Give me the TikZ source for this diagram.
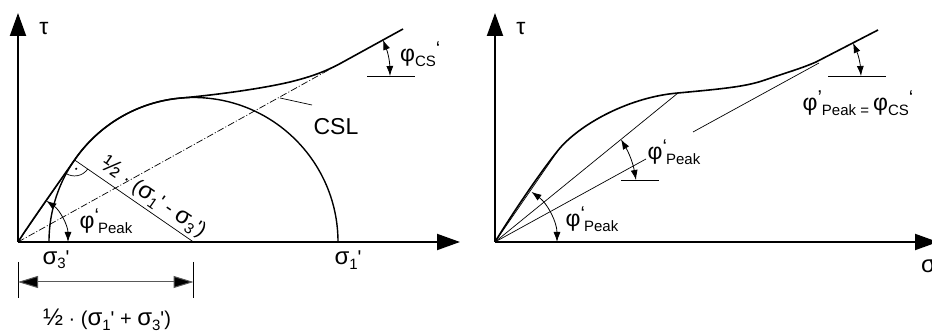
\documentclass[tikz,border=0pt]{standalone}
\usepackage{fontspec}
\setmainfont{Liberation Sans}
\usetikzlibrary{arrows.meta}
\newcommand{\subtx}[1]{\raisebox{-0.22em}{\fontsize{15}{15}\selectfont #1}}
\newcommand{\suptx}[1]{\raisebox{0.32em}{\fontsize{20}{20}\selectfont #1}}
\newcommand{\primq}{\textquotesingle}
\newcommand{\gsig}{{\fontsize{24}{24}\selectfont σ}}
\newcommand{\gphi}{{\fontsize{23}{23}\selectfont φ}}
\newcommand{\gtau}{{\fontsize{23}{23}\selectfont τ}}
\newcommand{\ghalf}{{\fontsize{24}{24}\selectfont ½}}
\newcommand{\phipeak}{\gphi\suptx{‘}\kern-1pt\subtx{Peak}}
\begin{document}
\begin{tikzpicture}[x=1pt, y=1pt,
  every node/.style={font=\fontsize{20}{22}\selectfont, inner sep=1pt},
  axis/.style={line width=2pt, -{Triangle[length=23pt,width=16pt]}},
  envel/.style={line width=1.6pt},
  fine/.style={line width=0.7pt},
  angarr/.style={line width=0.8pt, {Latex[length=10pt,width=7pt]}-{Latex[length=10pt,width=7pt]}},
  dimarr/.style={line width=1pt, draw=black!65, {Triangle[length=20pt,width=12pt,fill=black]}-{Triangle[length=20pt,width=12pt,fill=black]}}]
  \useasboundingbox (0,0) rectangle (932,336);
  % left panel: Mohr circle
  \coordinate (O) at (18,94);
  \coordinate (Xa) at (460,94);
  \coordinate (Ya) at (18,323);
  \coordinate (C) at (193.5,94);
  \coordinate (S3) at (49,94);
  \coordinate (S1) at (338,94);
  \coordinate (T) at ([shift={(145.4:144.5)}]C);
  \coordinate (K) at (343,274);
  \coordinate (E) at (403,307);
  \draw[axis] (O) -- (Xa);
  \draw[axis] (O) -- (Ya);
  \draw[line width=1.4pt] (S3) arc[start angle=180, end angle=0, radius=144.5];
  \draw[fine] (O) -- (T);
  \draw[fine, dash pattern=on 7pt off 2pt on 1pt off 2pt] (O) -- (K);
  \draw[envel] (O) .. controls (30,113) and (62,158) .. (T)
    arc[start angle=145.4, end angle=95, radius=144.5]
    .. controls (215,241) and (260,247) .. (290,254)
    .. controls (310,259) and (325,264) .. (K) -- (E);
  % radius and right angle
  \draw[fine] (T) -- (C) node[sloped, above=2pt, pos=0.6] {\ghalf\ · (\gsig\subtx{1}\primq\ - \gsig\subtx{3}\primq)};
  \draw[fine] ([shift={(-34.6:16)}]T) arc[start angle=-34.6, end angle=-124.6, radius=16];
  \fill ([shift={(-79.6:9)}]T) circle (1.2);
  \draw[angarr] ([shift={(0:50)}]O) arc[start angle=0, end angle=55.4, radius=50];
  % labels
  \node (tauL) at (44,307) {\gtau};
  \node (s3) at (56,76) {\gsig\subtx{3}\primq};
  \node (s1) at (348,76) {\gsig\subtx{1}\primq};
  \node (pkL) at (106,115) {\phipeak};
  \coordinate (c1) at (280,238);
  \coordinate (c2) at (312,231);
  \draw[fine] (c1) -- (c2);
  \node[font=\fontsize{23}{25}\selectfont] (csl) at (336,209) {CSL};
  % critical state angle
  \coordinate (h1) at (367,260);
  \coordinate (h2) at (415,260);
  \coordinate (a1) at (383,296.1);
  \coordinate (a2) at (390,260);
  \draw[fine] (h1) -- (h2);
  \draw[angarr] (a1) to[bend left=10] (a2);
  \node[anchor=west] (csL) at (399,282) {\gphi\subtx{CS}\suptx{‘}};
  % dimension
  \coordinate (d1) at (18,54);
  \coordinate (d2) at (193.5,54);
  \draw[fine] (18,74) -- (18,38);
  \draw[fine] (193.5,74) -- (193.5,38);
  \draw[dimarr] (d1) -- (d2);
  \node (half) at (107,16) {\ghalf\ · (\gsig\subtx{1}\primq\ + \gsig\subtx{3}\primq)};
  % right panel
  \coordinate (P) at (495,94);
  \coordinate (Xb) at (938,94);
  \coordinate (Yb) at (495,323);
  \coordinate (L0) at (557,184);
  \coordinate (M1) at (678,243);
  \coordinate (M2) at (646,177);
  \coordinate (N1) at (693,204);
  \coordinate (N2) at (819,273);
  \coordinate (Q) at (816,274);
  \coordinate (R) at (878,306);
  \draw[axis] (P) -- (Xb);
  \draw[axis] (P) -- (Yb);
  \draw[envel] (P) .. controls (507,114) and (540,164) .. (560,188)
    .. controls (582,213) and (630,239) .. (M1)
    .. controls (720,247) and (745,249) .. (765,256)
    .. controls (785,263) and (800,267) .. (Q) -- (R);
  \draw[fine] (P) -- (L0);
  \draw[fine] (P) -- (M1);
  \draw[fine] (P) -- (M2);
  \draw[fine] (N1) -- (N2);
  \draw[angarr] ([shift={(0:62)}]P) arc[start angle=0, end angle=54, radius=62];
  \coordinate (b1) at (621,196.6);
  \coordinate (b2) at (636,156);
  \coordinate (g1) at (621,156);
  \coordinate (g2) at (659,156);
  \draw[fine] (g1) -- (g2);
  \draw[angarr] (b1) to[bend left=10] (b2);
  \coordinate (e1) at (853,293.1);
  \coordinate (e2) at (861,260);
  \coordinate (f1) at (828,260);
  \coordinate (f2) at (886,260);
  \draw[fine] (f1) -- (f2);
  \draw[angarr] (e1) to[bend left=10] (e2);
  \node (tauR) at (521,307) {\gtau};
  \node[anchor=west] (sgR) at (920,70) {\gsig};
  \node (pkR1) at (592,117) {\phipeak};
  \node (pkR2) at (674,184) {\phipeak};
  \node (pkcs) at (858,233) {\gphi\suptx{’}\subtx{Peak = }\gphi\subtx{CS}\suptx{‘}};
\end{tikzpicture}
\end{document}
